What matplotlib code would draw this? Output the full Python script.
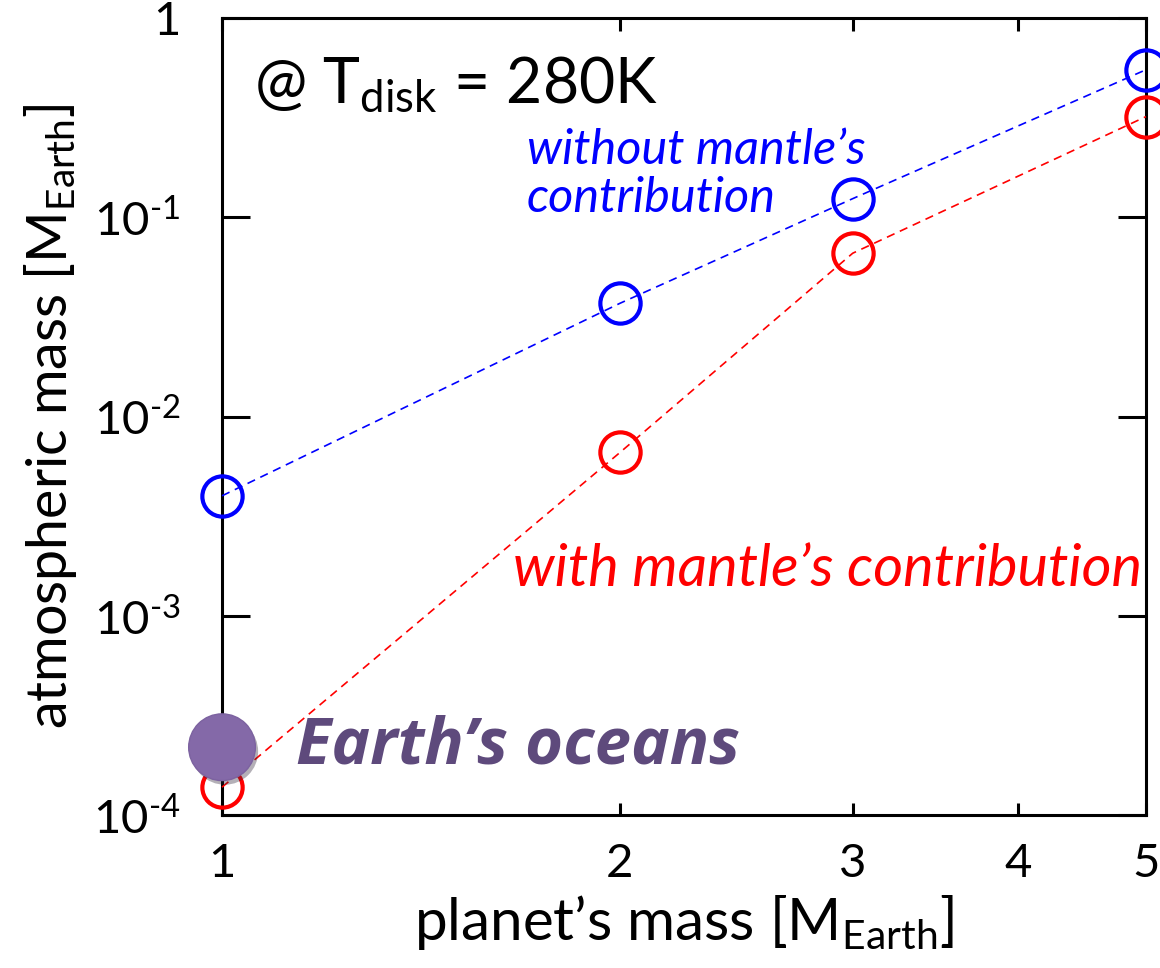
import math
import matplotlib
matplotlib.use("Agg")
import matplotlib.pyplot as plt
import matplotlib.patheffects as pe
from matplotlib.ticker import FixedLocator, FuncFormatter, NullLocator

plt.rcParams['font.family'] = ['Lato', 'DejaVu Sans']
plt.rcParams['mathtext.fontset'] = 'custom'
plt.rcParams['mathtext.rm'] = 'Lato'
plt.rcParams['mathtext.it'] = 'Lato:italic'

# data
planet_mass = [1, 2, 3, 5]
atm_without_mantle = [0.0040, 0.037, 0.124, 0.55]
atm_with_mantle = [0.000138, 0.0066, 0.066, 0.32]
oceans_mass = [1.0]
oceans_atm = [0.000219]

x_ticks = [1, 2, 3, 4, 5]
y_ticks = [1e-4, 1e-3, 1e-2, 1e-1, 1]

fig = plt.figure(figsize=(11.6, 9.68), dpi=100)
ax = fig.add_axes([0.1914, 0.158, 0.7965, 0.8234])

ax.plot(planet_mass, atm_without_mantle, ls=(0, (5, 3.5)), lw=1.2, color='#0000ff',
        marker='o', ms=29, mfc='none', mec='#0000ff', mew=3, clip_on=False, zorder=3)
ax.plot(planet_mass, atm_with_mantle, ls=(0, (5, 3.5)), lw=1.2, color='#ff0000',
        marker='o', ms=29, mfc='none', mec='#ff0000', mew=3, clip_on=False, zorder=3)

# Earth's oceans marker
ax.plot(oceans_mass, oceans_atm, ls='none', marker='o', ms=48, mfc='#8469a8', mec='#7c62a0',
        mew=1, clip_on=False, zorder=5,
        path_effects=[pe.SimplePatchShadow(offset=(2, -3), alpha=0.35), pe.Normal()])

ax.set_xscale('log')
ax.set_yscale('log')
ax.set_xlim(1, 5)
ax.set_ylim(1e-4, 1)

ax.xaxis.set_major_locator(FixedLocator(x_ticks))
ax.xaxis.set_minor_locator(NullLocator())
ax.xaxis.set_major_formatter(FuncFormatter(lambda v, p: '%d' % round(v)))
ax.yaxis.set_major_locator(FixedLocator(y_ticks))
ax.yaxis.set_minor_locator(NullLocator())


def ylab(v, p):
    if v >= 1:
        return '1'
    e = int(round(math.log10(v)))
    return r'10$^{\mathrm{‐%d}}$' % (-e)


ax.yaxis.set_major_formatter(FuncFormatter(ylab))

for s in ax.spines.values():
    s.set_linewidth(2.2)
ax.tick_params(axis='both', which='major', direction='in', top=True, right=True,
               width=2.2, labelsize=34)
ax.tick_params(axis='y', length=20, pad=30)
ax.tick_params(axis='x', length=9, pad=20)

ax.set_xlabel(r"planet’s mass [M$_{\mathrm{Earth}}$]", fontsize=42, labelpad=6)
ax.set_ylabel(r"atmospheric mass [M$_{\mathrm{Earth}}$]", fontsize=40, labelpad=10)

ax.text(0.035, 0.955, r"@ T$_{\mathrm{disk}}$ = 280K", transform=ax.transAxes,
        fontsize=45, ha='left', va='top')
ax.text(0.33, 0.862, "without mantle’s\ncontribution", transform=ax.transAxes,
        fontsize=35, style='italic', color='#0000ff', ha='left', va='top', linespacing=1.12)
ax.text(0.315, 0.308, "with mantle’s contribution", transform=ax.transAxes,
        fontsize=41.5, style='italic', color='#ff0000', ha='left', va='center')
ax.text(0.08, 0.085, "Earth’s oceans", transform=ax.transAxes, family=['Open Sans', 'DejaVu Sans'],
        fontsize=47, style='italic', weight='bold', color='#5e4a7c', ha='left', va='center')

fig.savefig('out.png', dpi=100)
